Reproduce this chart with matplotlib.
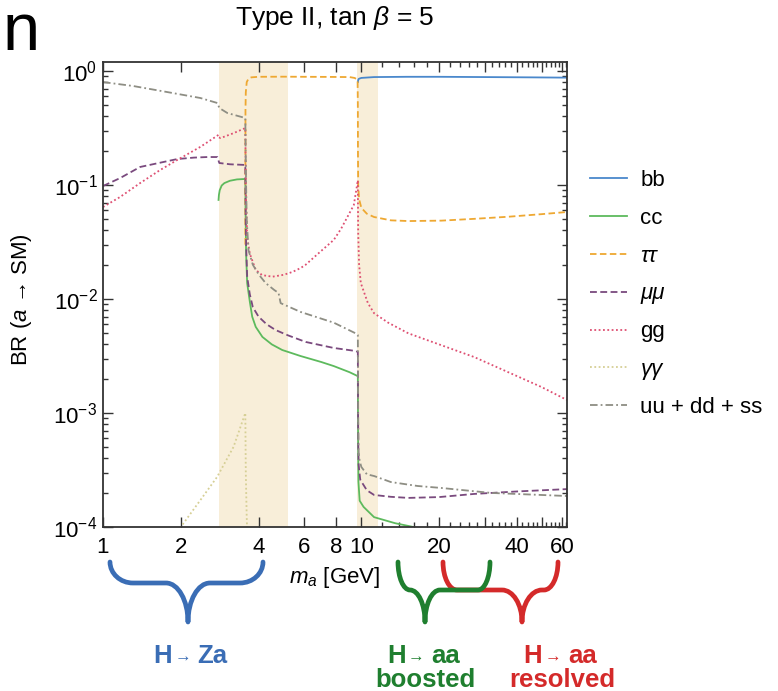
import numpy as np
import matplotlib
matplotlib.use('Agg')
import matplotlib.pyplot as plt
from matplotlib.path import Path
from matplotlib.patches import PathPatch
from matplotlib.transforms import Affine2D
import matplotlib.ticker as mticker

plt.rcParams['font.family'] = ['Liberation Sans', 'DejaVu Sans']
plt.rcParams['mathtext.fontset'] = 'custom'
plt.rcParams['mathtext.rm'] = 'Liberation Sans'
plt.rcParams['mathtext.it'] = 'Liberation Sans:italic'
plt.rcParams['mathtext.bf'] = 'Liberation Sans:bold'

# ---------------- data ----------------
x_bb = [9.70, 9.72, 9.75, 9.85, 10.0, 11.2, 15.0, 20.0, 30.0, 45.0, 62.5]
y_bb = [0.80, 0.83, 0.85, 0.86, 0.87, 0.885, 0.89, 0.89, 0.885, 0.88, 0.875]

x_cc = [2.80, 2.81, 2.83, 2.88, 2.95, 3.1, 3.3, 3.555, 3.565, 3.58, 3.614, 3.70, 3.78,
        3.9, 4.14, 4.5, 4.94, 5.82, 7.0, 7.82, 9.0, 9.67, 9.69, 9.71, 9.74, 9.85, 10.2,
        11.2, 13.5, 15.9, 20.0, 62.5]
y_cc = [0.074, 0.082, 0.090, 0.099, 0.104, 0.109, 0.112, 0.113, 0.05, 0.025, 0.0138,
        0.0095, 0.0070, 0.0057, 0.00465, 0.0040, 0.00357, 0.00316, 0.0028, 0.00258,
        0.00228, 0.00211, 0.0021, 6e-4, 2.5e-4, 1.7e-4, 1.5e-4, 1.22e-4, 1.08e-4,
        1.0e-4, 8.5e-5, 5e-5]

x_tau = [3.556, 3.56, 3.57, 3.6, 3.66, 3.75, 4.0, 5.0, 6.0, 7.5, 9.0, 9.4, 9.6, 9.67,
         9.69, 9.70, 9.72, 9.8, 10.0, 10.5, 11.2, 13.0, 15.2, 20.4, 27.3, 37.1, 49.8, 62.5]
y_tau = [0.03, 0.45, 0.65, 0.80, 0.86, 0.88, 0.89, 0.892, 0.89, 0.888, 0.885, 0.87,
         0.85, 0.834, 0.5, 0.2, 0.1, 0.075, 0.063, 0.056, 0.0524, 0.049, 0.0483,
         0.0487, 0.0505, 0.0527, 0.0555, 0.058]

x_mu = [1.0, 1.164, 1.392, 1.665, 1.939, 2.25, 2.534, 2.77, 2.82, 3.1, 3.555, 3.565,
        3.58, 3.614, 3.7, 3.8, 4.0, 4.3, 4.65, 5.2, 6.09, 7.82, 9.5, 9.69, 9.71, 9.73,
        9.76, 9.9, 10.5, 11.2, 13.0, 15.2, 20.0, 27.3, 40.0, 62.5]
y_mu = [0.098, 0.115, 0.144, 0.157, 0.169, 0.174, 0.176, 0.176, 0.156, 0.152, 0.150,
        0.06, 0.03, 0.0157, 0.011, 0.0085, 0.0070, 0.0060, 0.00535, 0.0048, 0.0042,
        0.00372, 0.0035, 0.00343, 0.001, 5e-4, 3.5e-4, 2.6e-4, 2.1e-4, 1.91e-4,
        1.84e-4, 1.8e-4, 1.83e-4, 1.95e-4, 2.05e-4, 2.15e-4]

x_gg = [1.0, 1.164, 1.392, 1.665, 1.939, 2.381, 2.797, 2.81, 2.85, 3.2, 3.555, 3.565,
        3.58, 3.614, 3.7, 3.9, 4.13, 4.53, 5.0, 5.42, 5.82, 6.09, 6.8, 7.82, 8.34, 9.35,
        9.69, 9.70, 9.72, 9.8, 9.95, 10.6, 11.2, 12.7, 15.2, 27.3, 49.8, 62.5]
y_gg = [0.0641, 0.0785, 0.104, 0.1355, 0.166, 0.216, 0.275, 0.262, 0.258, 0.285, 0.316,
        0.15, 0.07, 0.035, 0.025, 0.018, 0.0162, 0.0157, 0.0163, 0.0173, 0.0187, 0.020,
        0.025, 0.033, 0.0412, 0.0668, 0.11, 0.07, 0.038, 0.02, 0.0138, 0.0092, 0.0075,
        0.0062, 0.0050, 0.0031, 0.00169, 0.0013]

x_aa = [1.9, 2.0, 2.381, 2.765, 3.2, 3.555, 3.57, 3.6, 3.65]
y_aa = [8.5e-5, 1.0e-4, 1.72e-4, 2.75e-4, 5.04e-4, 1.0e-3, 3e-4, 1.2e-4, 5e-5]

x_q = [1.0, 1.308, 1.772, 2.381, 2.772, 2.822, 3.03, 3.555, 3.565, 3.58, 3.60, 3.656,
       3.8, 4.0, 4.26, 4.6, 4.78, 4.87, 5.82, 7.82, 9.5, 9.69, 9.71, 9.73, 9.76, 9.85,
       10.0, 10.5, 11.2, 13.0, 16.5, 20.4, 31.8, 62.5]
y_q = [0.80, 0.739, 0.654, 0.58, 0.524, 0.473, 0.428, 0.387, 0.2, 0.1, 0.05, 0.0269,
       0.020, 0.0165, 0.0138, 0.012, 0.0113, 0.0092, 0.0077, 0.0062, 0.0050, 0.00483,
       0.0015, 7e-4, 4.5e-4, 3.8e-4, 3.36e-4, 2.9e-4, 2.8e-4, 2.48e-4, 2.29e-4,
       2.2e-4, 1.99e-4, 1.87e-4]

bands = [(2.8, 5.2), (9.65, 11.6)]

x_major = [1, 2, 4, 6, 8, 10, 20, 30, 40, 50, 60]
x_major_labels = ['1', '2', '4', '6', '8', '10', '20', '', '40', '', '60']
x_minor = [12, 14, 16, 18, 22, 24, 26, 28, 32, 34, 36, 38, 42, 44, 46, 48, 52, 54, 56, 58, 62]

series = [
    ('bb', x_bb, y_bb, '#4a88cc', '-', False),
    ('cc', x_cc, y_cc, '#5dba5d', '-', False),
    ('\u03c4\u03c4', x_tau, y_tau, '#eea832', (0, (3.6, 1.9)), True),
    ('\u03bc\u03bc', x_mu, y_mu, '#7a4a7e', (0, (3.8, 1.9)), True),
    ('gg', x_gg, y_gg, '#de4f72', (0, (1.0, 1.4)), False),
    ('\u03b3\u03b3', x_aa, y_aa, '#d6cf95', (0, (1.0, 1.4)), True),
    ('uu + dd + ss', x_q, y_q, '#8e8e84', (0, (4.2, 1.7, 1.0, 1.7)), False),
]

# ---------------- figure ----------------
W, H = 778, 691
fig = plt.figure(figsize=(W / 100, H / 100), dpi=100)
pix = Affine2D().scale(1 / W, -1 / H).translate(0, 1) + fig.transFigure

L, R, T, B = 103, 567, 62, 527
ax = fig.add_axes([L / W, 1 - B / H, (R - L) / W, (B - T) / H])
ax.set_xscale('log')
ax.set_yscale('log')
ax.set_xlim(1, 62.5)
ax.set_ylim(1e-4, 1.2)

for a, b in bands:
    ax.axvspan(a, b, color='#f8eed9', lw=0, zorder=0)

for lab, xs, ys, col, ls, it in series:
    ax.plot(xs, ys, color=col, ls=ls, lw=1.3, label=lab, zorder=2)

ax.set_xticks(x_major)
ax.set_xticklabels(x_major_labels)
ax.set_xticks(x_minor, minor=True)
ax.xaxis.set_minor_formatter(mticker.NullFormatter())
ax.yaxis.set_major_locator(mticker.LogLocator(base=10, numticks=10))
ax.yaxis.set_minor_locator(mticker.LogLocator(base=10, subs=np.arange(2, 10), numticks=10))
ax.yaxis.set_minor_formatter(mticker.NullFormatter())

ax.tick_params(which='both', direction='in', top=True, right=True, color='#333333',
               labelsize=16, width=1.0)
ax.tick_params(which='major', length=7)
ax.tick_params(which='minor', length=3.5)
ax.tick_params(axis='x', which='major', pad=7)
ax.tick_params(axis='y', which='major', pad=4)
for s in ax.spines.values():
    s.set_color('#333333')
    s.set_linewidth(1.3)

leg = ax.legend(loc='center left', bbox_to_anchor=(590 / W, 1 - 294 / H),
                bbox_transform=fig.transFigure, frameon=False, borderpad=0,
                borderaxespad=0, handlelength=1.67, handletextpad=0.6,
                labelspacing=0.76, fontsize=16)
for txt, s in zip(leg.get_texts(), series):
    if s[5]:
        txt.set_fontstyle('italic')

# texts
fig.text(335 / W, 1 - 18 / H, r'Type II, tan $\mathit{\beta}$ = 5', ha='center',
         va='center', fontsize=19)
fig.text(3 / W, 1 - 50 / H, 'n', ha='left', va='baseline', fontsize=48)
fig.text(335 / W, 1 - 578 / H, r'$m_a$ [GeV]', ha='center', va='center', fontsize=16)
fig.text(22 / W, 1 - 300 / H, 'BR ($a$ \u2192 SM)', rotation=90, ha='center',
         va='center', fontsize=16)


def brace(x0, x1, xc, ytop, yh, ybot, r, rc, color):
    k = 0.552
    verts = [(x0, ytop),
             (x0, ytop + k * (yh - ytop)), (x0 + r - k * r, yh), (x0 + r, yh),
             (xc - rc, yh),
             (xc - rc + k * rc, yh), (xc, ybot - k * (ybot - yh)), (xc, ybot),
             (xc, ybot - k * (ybot - yh)), (xc + rc - k * rc, yh), (xc + rc, yh),
             (x1 - r, yh),
             (x1 - r + k * r, yh), (x1, ytop + k * (yh - ytop)), (x1, ytop)]
    C = Path.CURVE4
    codes = [Path.MOVETO, C, C, C, Path.LINETO, C, C, C, C, C, C, Path.LINETO, C, C, C]
    p = PathPatch(Path(verts, codes), facecolor='none', edgecolor=color, lw=3.4,
                  transform=pix, capstyle='round', joinstyle='round')
    fig.add_artist(p)


blue, green, red = '#3a6db5', '#1f7f2f', '#d42a2a'
brace(110, 263, 188, 562, 583, 622, 23, 22, blue)
brace(443, 558, 522, 562, 590, 622, 14, 20, red)
brace(398, 490, 425, 562, 590, 622, 12, 15, green)


def label(xh, xarr, xa, y, second, col):
    fig.text(xh / W, 1 - y / H, 'H', color=col, fontsize=18.5, fontweight='bold',
             ha='left', va='baseline')
    fig.text(xarr / W, 1 - (y - 1) / H, '\u2192', color=col, fontsize=12,
             ha='left', va='baseline')
    fig.text(xa / W, 1 - y / H, second, color=col, fontsize=18.5, fontweight='bold',
             ha='left', va='baseline')


label(153, 175, 197, 663, 'Za', blue)
label(387, 408, 431, 663, 'aa', green)
label(523, 545, 568, 663, 'aa', red)
fig.text(425 / W, 1 - 687 / H, 'boosted', color=green, fontsize=18.5, fontweight='bold',
         ha='center', va='baseline')
fig.text(562 / W, 1 - 687 / H, 'resolved', color=red, fontsize=18.5, fontweight='bold',
         ha='center', va='baseline')

fig.savefig('out.png', dpi=100)
